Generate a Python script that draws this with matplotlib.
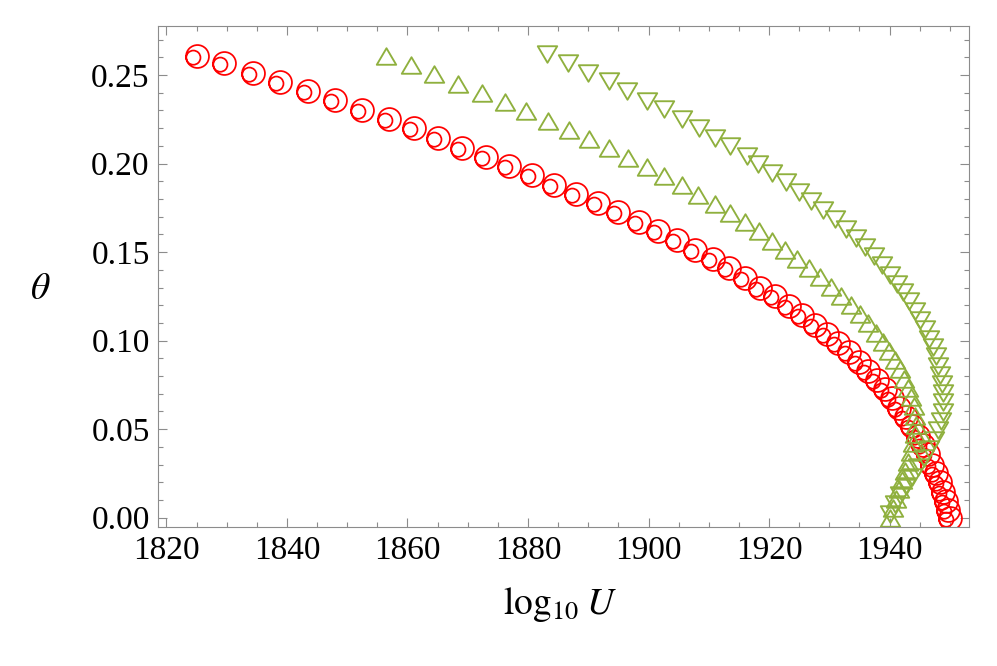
import matplotlib
matplotlib.use("Agg")
import matplotlib.pyplot as plt
from matplotlib.path import Path
from matplotlib.ticker import MultipleLocator

# red double circles
red_x = [1825.1, 1829.6, 1834.3, 1838.9, 1843.5, 1848.0, 1852.5, 1857.0, 1861.1, 1865.1,
         1869.1, 1873.1, 1876.9, 1880.7, 1884.3, 1888.0, 1891.6, 1895.0, 1898.4, 1901.6,
         1904.7, 1907.7, 1910.7, 1913.4, 1916.0, 1918.5, 1921.0, 1923.3, 1925.5, 1927.6,
         1929.6, 1931.4, 1933.3, 1934.9, 1936.4, 1937.9, 1939.2, 1940.4, 1941.6, 1942.7,
         1943.7, 1944.7, 1945.5, 1946.4, 1947.0, 1947.7, 1948.4, 1948.9, 1949.4, 1949.7,
         1950.0]
red_y = [0.261, 0.2567, 0.251, 0.246, 0.241, 0.236, 0.230, 0.225, 0.220, 0.2145,
         0.209, 0.2037, 0.1986, 0.1935, 0.188, 0.1828, 0.1777, 0.1727, 0.167, 0.162,
         0.157, 0.151, 0.146, 0.141, 0.1355, 0.130, 0.125, 0.1197, 0.1147, 0.109,
         0.104, 0.0989, 0.0933, 0.088, 0.0826, 0.0775, 0.0725, 0.0674, 0.0618, 0.0567,
         0.0516, 0.046, 0.041, 0.036, 0.030, 0.025, 0.020, 0.0145, 0.0094, 0.0043,
         0.0]

# green up triangles
up_x = [1856.5, 1860.5, 1864.4, 1868.4, 1872.4, 1876.1, 1879.7, 1883.3, 1886.8, 1890.1,
        1893.5, 1896.6, 1899.8, 1902.6, 1905.6, 1908.2, 1911.0, 1913.5, 1916.0, 1918.3,
        1920.5, 1922.7, 1924.6, 1926.6, 1928.5, 1930.3, 1931.9, 1933.6, 1935.1, 1936.4,
        1937.7, 1938.9, 1939.9, 1940.9, 1941.7, 1942.4, 1943.1, 1943.5, 1944.0, 1944.2,
        1944.4,
        1944.2, 1943.9, 1943.5, 1943.1, 1942.6, 1942.1, 1941.6, 1941.1, 1940.6, 1940.1]
up_y = [0.2607, 0.2554, 0.2503, 0.2450, 0.2398, 0.2346, 0.2294, 0.2242, 0.2190, 0.2137,
        0.2086, 0.2033, 0.1981, 0.1929, 0.1877, 0.1825, 0.1773, 0.1721, 0.1669, 0.1617,
        0.1565, 0.1513, 0.1461, 0.1409, 0.1357, 0.1305, 0.1253, 0.1201, 0.1149, 0.1097,
        0.1045, 0.0993, 0.0941, 0.0889, 0.0837, 0.0785, 0.0733, 0.0681, 0.0629, 0.0577,
        0.0525,
        0.0473, 0.0422, 0.0371, 0.0315, 0.0264, 0.0213, 0.0162, 0.0105, 0.0054, 0.0]

# green down triangles
down_x = [1883.1, 1886.7, 1890.0, 1893.4, 1896.4, 1899.7, 1902.5, 1905.5, 1908.3, 1911.0,
          1913.5, 1916.3, 1918.2, 1920.5, 1922.8, 1925.0, 1927.0, 1929.0, 1930.9, 1932.8,
          1934.4, 1935.9, 1937.4, 1938.7, 1940.1, 1941.2, 1942.2, 1943.2, 1944.2, 1945.0,
          1945.9, 1946.5, 1947.2, 1947.7, 1948.1, 1948.4, 1948.7, 1948.9, 1948.9, 1948.9,
          1948.5, 1948.0, 1947.4, 1946.5, 1945.7, 1944.7, 1943.7, 1942.7, 1941.7, 1940.9,
          1940.1]
down_y = [0.2616, 0.2569, 0.2513, 0.2466, 0.2410, 0.2354, 0.2306, 0.2250, 0.2203, 0.2146,
          0.2100, 0.2043, 0.1998, 0.1945, 0.1893, 0.1841, 0.1790, 0.1739, 0.1686, 0.1632,
          0.1581, 0.1531, 0.1480, 0.1426, 0.1373, 0.1322, 0.1272, 0.1221, 0.1170, 0.1114,
          0.1063, 0.1012, 0.0962, 0.0911, 0.0855, 0.0804, 0.0753, 0.0702, 0.0652, 0.0596,
          0.0545, 0.0494, 0.0438, 0.0387, 0.0336, 0.0286, 0.0230, 0.0179, 0.0128, 0.0077,
          0.0021]

red = '#ff0000'
green = '#8fb03e'
frame_col = '#8c8c8c'

plt.rcParams['font.family'] = ['Liberation Serif', 'DejaVu Serif']
plt.rcParams['mathtext.fontset'] = 'stix'

# marker shapes
double_circle = Path.make_compound_path(Path.circle((0, 0), 1.0),
                                        Path.circle((-0.36, -0.1), 0.62))
tri_up = Path([(-1, -0.85), (1, -0.85), (0, 0.85), (-1, -0.85)],
              [Path.MOVETO, Path.LINETO, Path.LINETO, Path.CLOSEPOLY])
tri_down = Path([(-1, 0.85), (1, 0.85), (0, -0.85), (-1, 0.85)],
                [Path.MOVETO, Path.LINETO, Path.LINETO, Path.CLOSEPOLY])

fig = plt.figure(figsize=(9.97, 6.66), dpi=100)
ax = fig.add_axes([0.1585, 0.2083, 0.8135, 0.7522])

ax.plot(red_x, red_y, linestyle='none', marker=double_circle, markersize=16.5,
        markerfacecolor='none', markeredgecolor=red, markeredgewidth=1.25)
ax.plot(up_x, up_y, linestyle='none', marker=tri_up, markersize=14,
        markerfacecolor='none', markeredgecolor=green, markeredgewidth=1.35)
ax.plot(down_x, down_y, linestyle='none', marker=tri_down, markersize=14,
        markerfacecolor='none', markeredgecolor=green, markeredgewidth=1.35)

ax.set_xlim(1818.6, 1953.2)
ax.set_ylim(-0.0054, 0.2775)

ax.xaxis.set_major_locator(MultipleLocator(20))
ax.xaxis.set_minor_locator(MultipleLocator(5))
ax.yaxis.set_major_locator(MultipleLocator(0.05))
ax.yaxis.set_minor_locator(MultipleLocator(0.01))
ax.yaxis.set_major_formatter(matplotlib.ticker.FormatStrFormatter('%.2f'))

ax.tick_params(which='both', direction='in', top=True, right=True,
               color=frame_col, width=0.8, labelsize=24, pad=6)
ax.tick_params(which='major', length=6.5)
ax.tick_params(which='minor', length=3.8)
for s in ax.spines.values():
    s.set_color(frame_col)
    s.set_linewidth(0.8)

ax.set_xlabel(r'$\mathrm{log}_{10}\;U$', fontsize=27)
ax.xaxis.set_label_coords(0.496, -0.155)
ax.xaxis.label.set_va('center')
ax.set_ylabel(r'$\theta$', fontsize=27, rotation=0)
ax.yaxis.set_label_coords(-0.145, 0.474)
ax.yaxis.label.set_va('center')

fig.savefig('out.png', dpi=100)
